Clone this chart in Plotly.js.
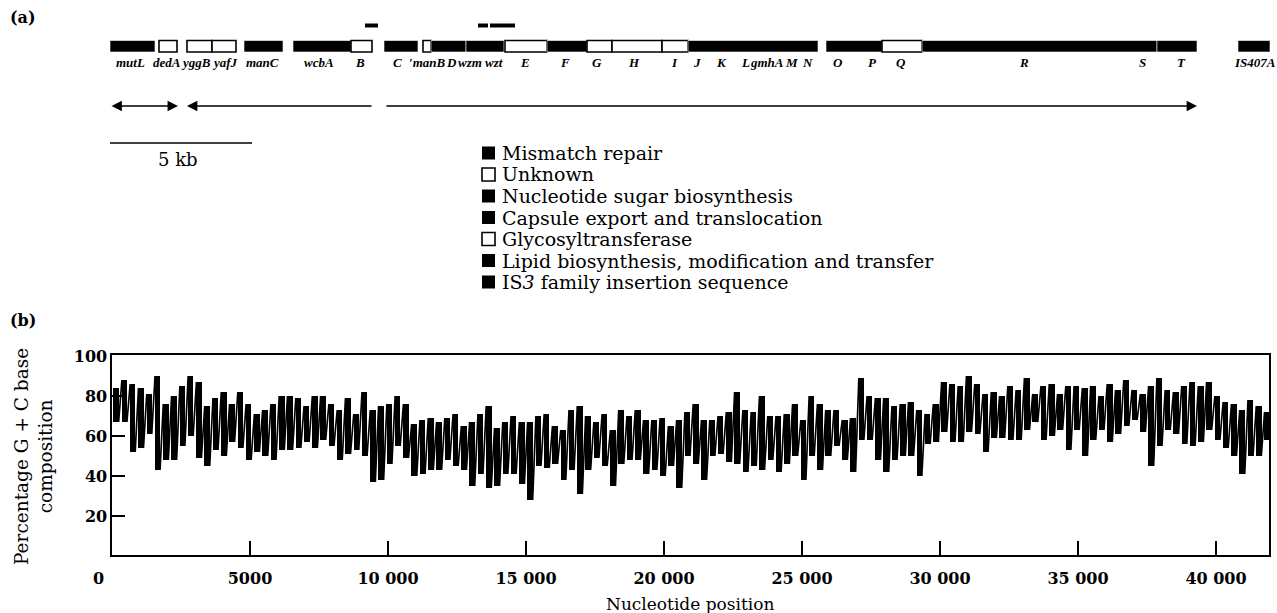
<!DOCTYPE html>
<html>
<head>
<meta charset="utf-8">
<script src="https://cdn.plot.ly/plotly-3.0.1.min.js"></script>
<style>html,body{margin:0;padding:0;background:#fff;}#chart{width:1277px;height:613px;}</style>
</head>
<body>
<div id="chart"></div>
<script>
// ---------- Panel (b): G+C content, read per 300 bp window (high / low excursion) ----------
const binWidth = 300;
const gcHigh = [
  84,88,86,84,81,90,76,80,85,90,
  87,75,79,82,76,82,76,71,73,76,
  80,80,79,75,80,80,76,73,79,71,
  82,73,75,76,80,76,66,68,69,67,
  69,71,65,67,71,75,64,67,70,67,
  67,70,71,65,63,73,75,70,67,71,
  63,73,70,73,68,68,69,65,68,72,
  76,68,68,70,72,82,73,72,80,70,
  70,71,76,68,80,76,73,73,68,69,
  89,80,79,79,75,76,77,73,71,76,
  87,86,85,90,86,81,82,80,85,83,
  89,81,85,86,81,85,85,84,85,80,
  86,83,88,83,81,85,89,83,82,85,
  87,85,87,80,77,76,73,78,75,72
];
const gcLow = [
  67,67,52,54,61,43,48,48,55,60,
  49,45,53,50,57,54,48,52,50,48,
  53,53,54,57,54,58,55,48,51,53,
  50,37,38,46,55,49,40,41,43,43,
  48,45,43,35,41,34,35,41,41,36,
  28,45,44,46,38,43,31,43,49,45,
  35,46,48,48,41,43,40,45,34,50,
  46,38,50,51,47,46,42,45,43,48,
  42,46,50,38,50,43,50,55,48,42,
  58,58,48,42,48,50,50,40,56,57,
  62,57,57,62,61,52,59,59,58,58,
  63,67,58,60,63,53,63,50,58,63,
  57,61,65,68,62,45,55,63,61,56,
  55,57,63,58,54,50,41,50,50,58
];
const xTickVals = [0,5000,10000,15000,20000,25000,30000,35000,40000];
const xTickText = ['','5000','10 000','15 000','20 000','25 000','30 000','35 000','40 000'];
const yTickVals = [20,40,60,80,100];
const yTickText = ['20','40','60','80','100'];

// ---------- Panel (a): gene map (bp) ----------
const geneStart = [0,1725,2711,3592,4718,6444,8486,9648,11021,11303,12535,13908,15387,16796,17676,19437,20352,25211,27183,28592,36866,39718];
const geneEnd   = [1585,2359,3592,4437,6092,8486,9225,10845,11303,12535,13873,15387,16796,17676,19437,20352,24930,27183,28592,36866,38275,40845];
// 0 mismatch repair, 1 unknown, 2 nucleotide sugar, 3 capsule export, 4 glycosyltransferase, 5 lipid, 6 IS3
const geneClass = [0,1,1,1,2,3,4,2,1,2,3,4,2,4,4,4,2,5,4,5,5,6];
const labelText = ['mutL','dedA','yggB','yafJ','manC','wcbA','B','C','\u2032manB','D','wzm','wzt','E','F','G','H','I','J','K','L','gmhA','M','N','O','P','Q','R','S','T','IS407A'];
const labelPos  = [739,2007,3028,4049,5387,7359,8803,10106,11160,12007,12676,13521,14613,16021,17148,18450,19859,20669,21514,22359,23134,23979,24577,25634,26831,27852,32183,36338,37746,40317];
const smallBarStart = [8979,12958,13380];
const smallBarEnd   = [9437,13310,14261];
const operonStart = [0,2711,9683];
const operonEnd   = [2394,9260,38275];
const operonDir   = ['both','left','right'];
const scaleBar = [0,5000];
const scaleLabel = '5 kb';
const legendLabels = ['Mismatch repair','Unknown','Nucleotide sugar biosynthesis','Capsule export and translocation','Glycosyltransferase','Lipid biosynthesis, modification and transfer','IS<i>3</i> family insertion sequence'];
const legendOpen = [false,true,false,false,true,false,false];
const openClasses = [1,4];

// ---------- build ----------
const W = 1277, H = 613;
const px = v => v / W;
const py = v => 1 - v / H;

const bx = [], bbase = [], blen = [], zx = [], zy = [];
for (let i = 0; i < gcHigh.length; i++) {
  const c = i * binWidth + binWidth / 2;
  bx.push(c);
  bbase.push(gcLow[i]);
  blen.push(gcHigh[i] - gcLow[i]);
  zx.push(c - 90, c + 90);
  zy.push(gcHigh[i], gcLow[i]);
}
const traces = [{
  x: bx, y: blen, base: bbase, type: 'bar', width: 200,
  marker: {color: '#000', line: {width: 0}},
  xaxis: 'x', yaxis: 'y', hoverinfo: 'skip', showlegend: false
}, {
  x: zx, y: zy, type: 'scatter', mode: 'lines',
  line: {color: '#000', width: 1.7},
  xaxis: 'x', yaxis: 'y', hoverinfo: 'skip', showlegend: false
}];

const shapes = [];
const annotations = [];
const serif = 'DejaVu Serif';

// gene boxes
for (let i = 0; i < geneStart.length; i++) {
  const open = openClasses.includes(geneClass[i]);
  shapes.push({type: 'rect', xref: 'x2', yref: 'y2', x0: geneStart[i], x1: geneEnd[i], y0: 40.5, y1: 52,
    fillcolor: open ? '#fff' : '#000', line: {color: open ? '#000' : '#fff', width: open ? 1.6 : 0.6}});
}
for (let i = 0; i < smallBarStart.length; i++) {
  shapes.push({type: 'rect', xref: 'x2', yref: 'y2', x0: smallBarStart[i], x1: smallBarEnd[i], y0: 23.5, y1: 27.5,
    fillcolor: '#000', line: {width: 0}});
}
for (let i = 0; i < labelText.length; i++) {
  annotations.push({xref: 'x2', yref: 'y2', x: labelPos[i], y: 62, text: labelText[i], showarrow: false,
    xanchor: 'center', yanchor: 'middle', font: {family: 'Liberation Serif', size: 13, color: '#000', weight: 'bold', style: 'italic'}});
}
// operon arrows
for (let i = 0; i < operonStart.length; i++) {
  let x = operonEnd[i], ax = operonStart[i], side = 'end';
  if (operonDir[i] === 'left') { x = operonStart[i]; ax = operonEnd[i]; }
  if (operonDir[i] === 'both') side = 'end+start';
  annotations.push({xref: 'x2', yref: 'y2', axref: 'x2', ayref: 'y2', x: x, y: 106, ax: ax, ay: 106, text: '',
    showarrow: true, arrowhead: 2, startarrowhead: 2, arrowside: side, arrowsize: 1.3, arrowwidth: 1.6, arrowcolor: '#000', standoff: 0, startstandoff: 0});
}
// scale bar
shapes.push({type: 'line', xref: 'x2', yref: 'y2', x0: scaleBar[0], x1: scaleBar[1], y0: 143, y1: 143, line: {color: '#000', width: 1.6}});
annotations.push({xref: 'x2', yref: 'y2', x: (scaleBar[0] + scaleBar[1]) / 2 - 120, y: 159, text: scaleLabel, showarrow: false,
  font: {family: serif, size: 18, color: '#000'}});

// legend
for (let i = 0; i < legendLabels.length; i++) {
  const yc = 153 + i * 21.5;
  shapes.push({type: 'rect', xref: 'paper', yref: 'paper', x0: px(482), x1: px(495), y0: py(yc + 6.5), y1: py(yc - 6.5),
    fillcolor: legendOpen[i] ? '#fff' : '#000', line: {color: '#000', width: legendOpen[i] ? 1.6 : 0}});
  annotations.push({xref: 'paper', yref: 'paper', x: px(500), y: py(yc), text: legendLabels[i], showarrow: false,
    xanchor: 'left', yanchor: 'middle', font: {family: serif, size: 19, color: '#000'}});
}
// panel letters
annotations.push({xref: 'paper', yref: 'paper', x: px(8), y: py(18), text: '(a)', showarrow: false, xanchor: 'left', yanchor: 'middle', font: {family: serif, size: 16, color: '#000', weight: 'bold'}});
annotations.push({xref: 'paper', yref: 'paper', x: px(8), y: py(320), text: '(b)', showarrow: false, xanchor: 'left', yanchor: 'middle', font: {family: serif, size: 16, color: '#000', weight: 'bold'}});
// axis titles and x "0"
annotations.push({xref: 'paper', yref: 'paper', x: px(98), y: py(578), text: '0', showarrow: false, xanchor: 'center', yanchor: 'middle', font: {family: serif, size: 16, color: '#000', weight: 'bold'}});
annotations.push({xref: 'paper', yref: 'paper', x: px(690), y: py(604), text: 'Nucleotide position', showarrow: false, xanchor: 'center', yanchor: 'middle', font: {family: serif, size: 17, color: '#000'}});
annotations.push({xref: 'paper', yref: 'paper', x: px(33), y: py(457), text: 'Percentage G + C base<br>composition', textangle: -90, showarrow: false, xanchor: 'center', yanchor: 'middle', font: {family: serif, size: 18.5, color: '#000'}});

const layout = {
  width: W, height: H,
  margin: {l: 0, r: 0, t: 0, b: 0},
  paper_bgcolor: '#fff', plot_bgcolor: '#fff',
  showlegend: false,
  bargap: 0,
  xaxis: {domain: [px(112), px(1269)], range: [0, 41920], tickvals: xTickVals, ticktext: xTickText,
    ticks: 'inside', ticklen: 14, tickwidth: 1.5, tickcolor: '#000', ticklabelstandoff: 8,
    showline: true, mirror: true, linewidth: 2, linecolor: '#000', showgrid: false, zeroline: false,
    tickfont: {family: serif, size: 16, color: '#000', weight: 'bold'}, anchor: 'y', fixedrange: true},
  yaxis: {domain: [1 - 555 / H, 1 - 355 / H], range: [0.5, 100.5], tickvals: yTickVals, ticktext: yTickText,
    ticks: 'inside', ticklen: 13, tickwidth: 1.5, tickcolor: '#000',
    showline: true, mirror: true, linewidth: 1.6, linecolor: '#000', showgrid: false, zeroline: false,
    tickfont: {family: serif, size: 16, color: '#000', weight: 'bold'}, anchor: 'x', fixedrange: true},
  xaxis2: {domain: [0, 1], range: [(0 - 110) * 5000 / 142, (1277 - 110) * 5000 / 142], visible: false, anchor: 'y2', fixedrange: true},
  yaxis2: {domain: [1 - 175 / H, 1], range: [175, 0], visible: false, anchor: 'x2', fixedrange: true},
  shapes: shapes,
  annotations: annotations
};

Plotly.newPlot('chart', traces, layout, {displayModeBar: false, staticPlot: true});
</script>
</body>
</html>
